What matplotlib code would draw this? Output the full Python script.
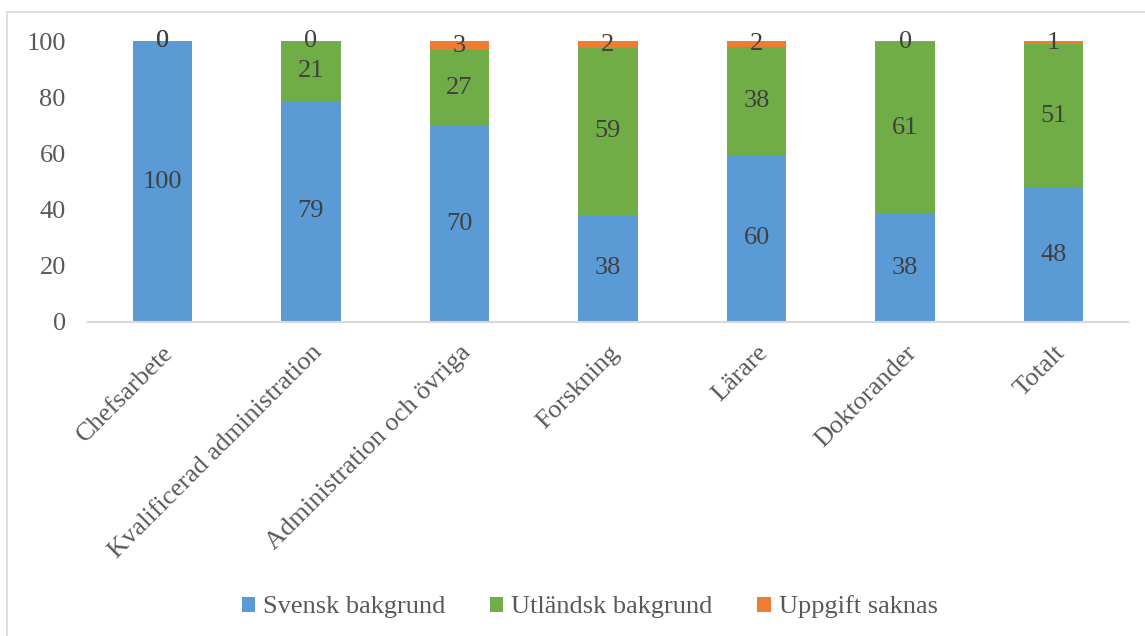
import matplotlib
import numpy as np

matplotlib.use("Agg")
import matplotlib.pyplot as plt
from matplotlib.patches import Rectangle

# Data (percent)
categories = ["Chefsarbete", "Kvalificerad administration", "Administration och övriga",
              "Forskning", "Lärare", "Doktorander", "Totalt"]
svensk = [100.0, 78.8, 70.0, 38.2, 59.5, 38.3, 47.9]
utlandsk = [0.0, 21.2, 26.7, 59.3, 38.4, 61.3, 50.9]
saknas = [0.0, 0.0, 3.3, 2.5, 2.1, 0.4, 1.2]
series_names = ["Svensk bakgrund", "Utländsk bakgrund", "Uppgift saknas"]
colors = ["#5b9bd5", "#70ad47", "#ed7d31"]

plt.rcParams["font.family"] = ["Liberation Serif", "DejaVu Serif"]
FS = 19

fig = plt.figure(figsize=(11.45, 6.36), dpi=100)
fig.patches.append(Rectangle((7 / 1145, -0.1), 1.2, 1 - 12 / 636 + 0.1,
                             transform=fig.transFigure, fill=False,
                             edgecolor="#d9d9d9", linewidth=1.2))
ax = fig.add_axes([88 / 1145, 1 - 322 / 636, 1040 / 1145, 281 / 636])

x = np.arange(len(categories))
width = 0.4
bottom = np.zeros(len(categories))
handles = []
for vals, name, col in zip([svensk, utlandsk, saknas], series_names, colors):
    vals = np.array(vals)
    b = ax.bar(x, vals, width, bottom=bottom, color=col, label=name, zorder=2)
    handles.append(b)
    for xi, v, bt in zip(x, vals, bottom):
        ax.text(xi, bt + v / 2, f"{v:.0f}", ha="center", va="center",
                fontsize=FS, color="#404040", zorder=3)
    bottom += vals

ax.set_xlim(-0.5, len(categories) - 0.5)
ax.set_ylim(0, 100)
ax.set_yticks(range(0, 101, 20))
ax.set_xticks(x)
ax.set_xticklabels(categories, rotation=45, ha="right", rotation_mode="anchor")
ax.tick_params(axis="both", length=0, labelsize=FS, colors="#595959")
ax.tick_params(axis="y", pad=16)
ax.tick_params(axis="x", pad=14)
for s in ["top", "right", "left"]:
    ax.spines[s].set_visible(False)
ax.spines["bottom"].set_color("#d9d9d9")
ax.spines["bottom"].set_linewidth(1.5)

leg = fig.legend(handles=handles, labels=series_names, loc="center",
                 bbox_to_anchor=(0.515, 1 - 607 / 636), ncol=3, frameon=False,
                 fontsize=FS, handlelength=0.5, handleheight=0.5,
                 handletextpad=0.3, columnspacing=1.7)
for t in leg.get_texts():
    t.set_color("#595959")

fig.savefig("out.png", dpi=100)
